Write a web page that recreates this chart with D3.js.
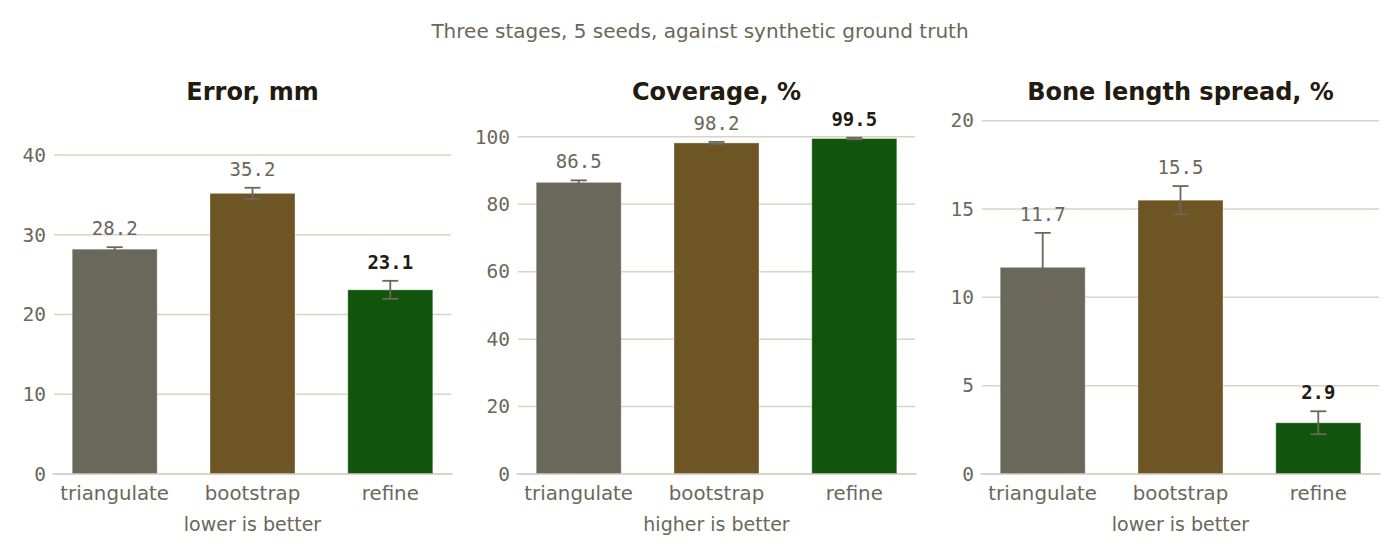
<!DOCTYPE html>
<html>
<head>
<meta charset="utf-8">
<script src="https://cdn.jsdelivr.net/npm/d3@7"></script>
<style>
  html, body { margin: 0; padding: 0; background: #ffffff; }
  svg { display: block; }
</style>
</head>
<body>
<svg id="chart" width="1400" height="557"></svg>
<script>
// ---- data ----
const categories = ["triangulate", "bootstrap", "refine"];
const panelTitles = ["Error, mm", "Coverage, %", "Bone length spread, %"];
const panelNotes = ["lower is better", "higher is better", "lower is better"];
const errorMean = [28.2, 35.2, 23.1];
const errorSd = [0.25, 0.7, 1.13];
const coverageMean = [86.5, 98.2, 99.5];
const coverageSd = [0.6, 0.3, 0.25];
const boneMean = [11.7, 15.5, 2.9];
const boneSd = [1.95, 0.8, 0.65];
const errorTicks = [0, 10, 20, 30, 40];
const coverageTicks = [0, 20, 40, 60, 80, 100];
const boneTicks = [0, 5, 10, 15, 20];
const suptitle = "Three stages, 5 seeds, against synthetic ground truth";

const panels = [
  { title: panelTitles[0], note: panelNotes[0], means: errorMean, sds: errorSd, ticks: errorTicks, yMax: 44.4, lowerBetter: true, x0: 54 },
  { title: panelTitles[1], note: panelNotes[1], means: coverageMean, sds: coverageSd, ticks: coverageTicks, yMax: 105.0, lowerBetter: false, x0: 518 },
  { title: panelTitles[2], note: panelNotes[2], means: boneMean, sds: boneSd, ticks: boneTicks, yMax: 20.04, lowerBetter: true, x0: 982 }
];

const barColors = ["#6a675b", "#6e5524", "#10550b"];
const textGrey = "#6b675a";
const dark = "#231a10";
const gridColor = "#d8d3c2";
const plotTop = 120, plotBottom = 474, plotW = 397;

const svg = d3.select("#chart");

svg.append("text")
  .attr("x", 700).attr("y", 38)
  .attr("text-anchor", "middle")
  .attr("font-family", "DejaVu Sans")
  .attr("font-size", 20)
  .attr("fill", textGrey)
  .text(suptitle);

panels.forEach(p => {
  const g = svg.append("g");
  const x = d3.scaleBand().domain(categories)
    .range([p.x0, p.x0 + plotW]).paddingInner(0.383).paddingOuter(0.132);
  const y = d3.scaleLinear().domain([0, p.yMax]).range([plotBottom, plotTop]);

  // grid
  g.selectAll("line.grid").data(p.ticks.filter(t => t > 0)).enter().append("line")
    .attr("x1", p.x0).attr("x2", p.x0 + plotW)
    .attr("y1", d => y(d)).attr("y2", d => y(d))
    .attr("stroke", gridColor).attr("stroke-width", 1.5);

  // y tick labels
  const yAxis = d3.axisLeft(y).tickValues(p.ticks).tickSize(0).tickPadding(8).tickFormat(d3.format("d"));
  const ax = g.append("g").attr("transform", `translate(${p.x0},0)`).call(yAxis);
  ax.select(".domain").remove();
  ax.selectAll("text")
    .attr("font-family", "DejaVu Sans Mono")
    .attr("font-size", 19.5)
    .attr("fill", textGrey);

  // bars
  g.selectAll("rect.bar").data(categories).enter().append("rect")
    .attr("x", d => x(d)).attr("width", x.bandwidth())
    .attr("y", (d, i) => y(p.means[i]))
    .attr("height", (d, i) => y(0) - y(p.means[i]))
    .attr("fill", (d, i) => barColors[i])
    .attr("stroke", "#ffffff").attr("stroke-opacity", 0.35).attr("stroke-width", 1);

  // baseline spine
  g.append("line")
    .attr("x1", p.x0 - 1.5).attr("x2", p.x0 + plotW + 1.5)
    .attr("y1", y(0)).attr("y2", y(0))
    .attr("stroke", "#cdc6b3").attr("stroke-width", 1.6);

  // error bars
  const eb = g.selectAll("g.err").data(categories).enter().append("g");
  const cx = d => x(d) + x.bandwidth() / 2;
  eb.append("line")
    .attr("x1", cx).attr("x2", cx)
    .attr("y1", (d, i) => y(p.means[i] - p.sds[i]))
    .attr("y2", (d, i) => y(p.means[i] + p.sds[i]))
    .attr("stroke", textGrey).attr("stroke-width", 1.8);
  [-1, 1].forEach(s => {
    eb.append("line")
      .attr("x1", d => cx(d) - 8).attr("x2", d => cx(d) + 8)
      .attr("y1", (d, i) => y(p.means[i] + s * p.sds[i]))
      .attr("y2", (d, i) => y(p.means[i] + s * p.sds[i]))
      .attr("stroke", textGrey).attr("stroke-width", 1.8);
  });

  // value labels
  const best = p.lowerBetter ? d3.minIndex(p.means) : d3.maxIndex(p.means);
  g.selectAll("text.val").data(categories).enter().append("text")
    .attr("x", cx)
    .attr("y", (d, i) => y(p.means[i] + p.sds[i]) - 12)
    .attr("text-anchor", "middle")
    .attr("font-family", "DejaVu Sans Mono")
    .attr("font-size", 19)
    .attr("font-weight", (d, i) => i === best ? "bold" : "normal")
    .attr("fill", (d, i) => i === best ? dark : textGrey)
    .text((d, i) => d3.format(".1f")(p.means[i]));

  // category labels
  g.selectAll("text.cat").data(categories).enter().append("text")
    .attr("x", cx).attr("y", 500)
    .attr("text-anchor", "middle")
    .attr("font-family", "DejaVu Sans")
    .attr("font-size", 19.8)
    .attr("fill", textGrey)
    .text(d => d);

  // note
  g.append("text")
    .attr("x", p.x0 + plotW / 2).attr("y", 531)
    .attr("text-anchor", "middle")
    .attr("font-family", "DejaVu Sans")
    .attr("font-size", 19)
    .attr("fill", textGrey)
    .text(p.note);

  // title
  g.append("text")
    .attr("x", p.x0 + plotW / 2).attr("y", 100)
    .attr("text-anchor", "middle")
    .attr("font-family", "DejaVu Sans")
    .attr("font-weight", "bold")
    .attr("font-size", 24)
    .attr("fill", dark)
    .text(p.title);
});
</script>
</body>
</html>
